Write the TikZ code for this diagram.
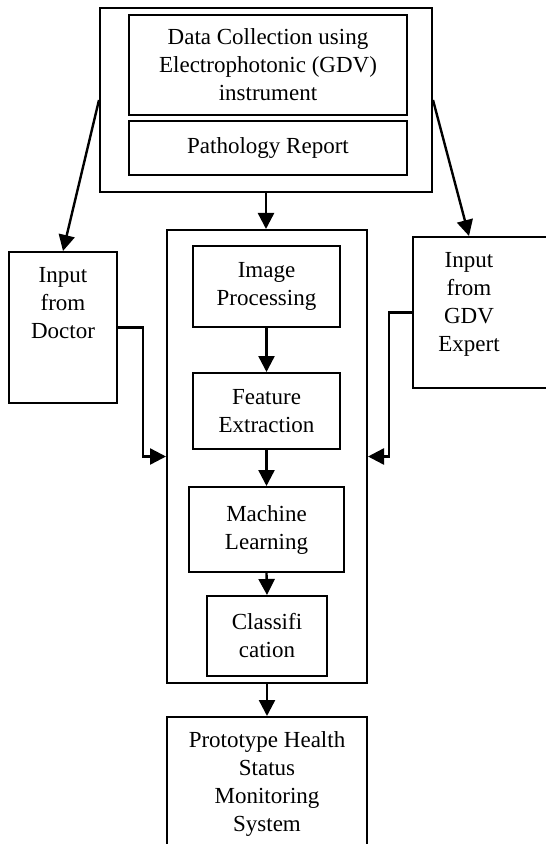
\documentclass[tikz,border=0pt]{standalone}
\usepackage{fontspec}
\setmainfont{Liberation Serif}
\usetikzlibrary{arrows.meta}

\begin{document}
\begin{tikzpicture}[x=1bp, y=-1bp,
    box/.style={draw, line width=2bp, inner sep=0pt, align=center,
        font=\fontsize{23bp}{28bp}\selectfont},
    flow/.style={line width=2.4bp, -{Triangle[length=16bp, width=16bp]}}]

    \useasboundingbox (0,0) rectangle (546,844);

    % ============================================================
    % DATA SOURCES (FRAME WITH TWO ENTRIES)
    % ============================================================
    \node[box, minimum width=332bp, minimum height=184bp] (source) at (266,100) {};
    \node[box, minimum width=278bp, minimum height=100bp] (data) at (268,65)
        {Data Collection using\\Electrophotonic (GDV)\\instrument};
    \node[box, minimum width=278bp, minimum height=54bp] (patho) at (268,148)
        {Pathology Report};

    % ============================================================
    % PROCESSING STACK
    % ============================================================
    \node[box, minimum width=200bp, minimum height=453bp] (stack) at (267,456.5) {};
    \node[box, minimum width=147bp, minimum height=81bp] (imgproc) at (266.5,286.5)
        {Image\\Processing};
    \node[box, minimum width=147bp, minimum height=76bp] (feat) at (266.5,411)
        {Feature\\Extraction};
    \node[box, minimum width=155bp, minimum height=85bp] (ml) at (266.5,529.5)
        {Machine\\Learning};
    \node[box, minimum width=120bp, minimum height=80bp] (classif) at (267,636)
        {Classifi\\cation};

    % ============================================================
    % OUTPUT SYSTEM
    % ============================================================
    \node[box, minimum width=200bp, minimum height=134bp] (proto) at (267,784)
        {Prototype Health\\Status\\Monitoring\\System};

    % ============================================================
    % EXPERT INPUTS (TEXT AT THE TOP OF THE BOX)
    % ============================================================
    \node[box] (doctor) at (63,327.5)
        {\parbox[c][151bp][t]{108bp}{\vspace*{15bp}\centering Input\\from\\Doctor}};
    \node[box] (gdv) at (486.5,312.5)
        {\parbox[c][151bp][t]{112bp}{\vspace*{15bp}\centering Input\\from\\GDV\\Expert}\hspace*{35bp}};

    % ============================================================
    % CONNECTORS
    % ============================================================
    \draw[flow] (source.south) -- (source.south |- stack.north);
    \draw[flow] (source.west) -- (doctor.north);
    \draw[flow] (source.east) -- ([xshift=-17.5bp]gdv.north);

    \draw[flow] (imgproc.south) -- (feat.north);
    \draw[flow] (feat.south) -- (ml.north);
    \draw[flow] (ml.south) -- (classif.north);
    \draw[flow] (stack.south) -- (proto.north);

    \draw[flow] (doctor.east) -- ++(25,0) |- (stack.west);
    \draw[flow] (gdv.west) -- ++(-23,0) |- (stack.east);

\end{tikzpicture}
\end{document}
